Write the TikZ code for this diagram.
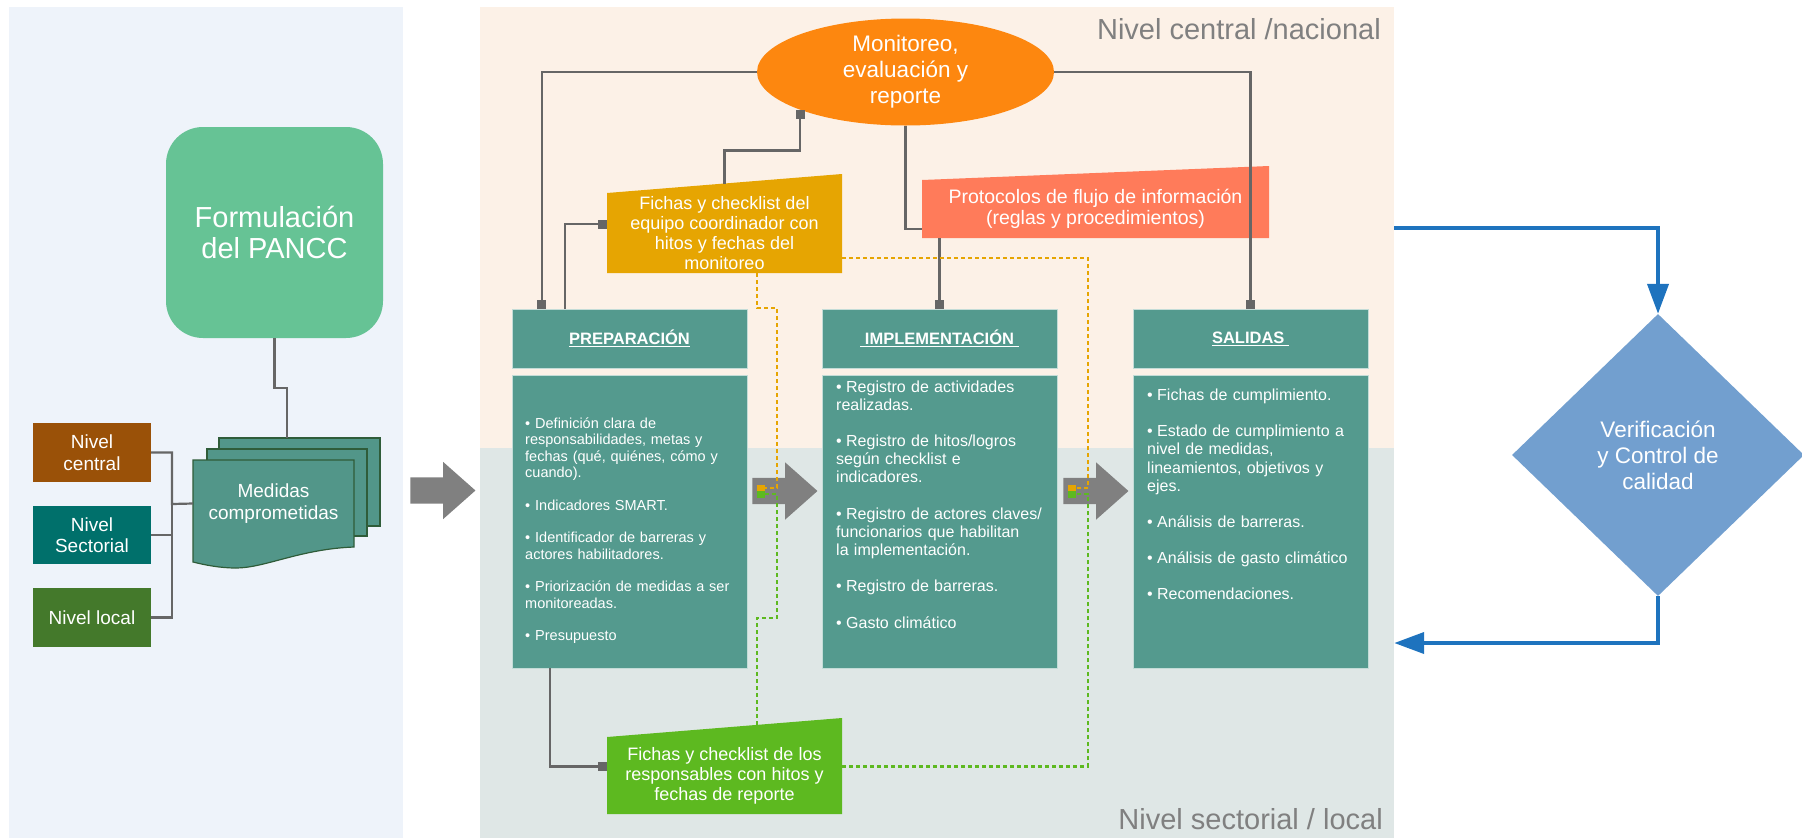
\documentclass[tikz,border=0pt]{standalone}
\usepackage{fontspec}
\setmainfont{Liberation Sans}
\usetikzlibrary{arrows.meta,shapes.geometric,shapes.arrows,calc}

\definecolor{panelleft}{HTML}{EEF3FA}
\definecolor{panelcentral}{HTML}{FCF1E7}
\definecolor{panelsector}{HTML}{DFE7E6}
\definecolor{formgreen}{HTML}{66C395}
\definecolor{medteal}{HTML}{529689}
\definecolor{medline}{HTML}{2F5C39}
\definecolor{nivcentral}{HTML}{9A5108}
\definecolor{nivsector}{HTML}{00706B}
\definecolor{nivlocal}{HTML}{44792B}
\definecolor{bigarrow}{HTML}{808080}
\definecolor{monorange}{HTML}{FD870F}
\definecolor{fichaorange}{HTML}{E6A502}
\definecolor{protored}{HTML}{FF7B5A}
\definecolor{fichagreen}{HTML}{5DB920}
\definecolor{stageteal}{HTML}{549A8E}
\definecolor{diamblue}{HTML}{729FCF}
\definecolor{flowblue}{HTML}{1E73BE}
\definecolor{linegray}{HTML}{666666}
\definecolor{labelgray}{HTML}{808080}

\newcommand{\fs}[2]{\fontsize{#1}{#2}\selectfont}
\newcommand{\bitem}[1]{\hangindent=10pt\hangafter=1\noindent\makebox[10pt][l]{\textbullet}#1\par}

\begin{document}
\begin{tikzpicture}[x=1pt, y=-1pt,
    box/.style={inner sep=0pt, text=white, align=center},
    panel/.style={inner sep=0pt, minimum width=914},
    stage/.style={box, fill=stageteal, draw=white!65!stageteal, line width=0.8pt, minimum width=235},
    list/.style={inner sep=0pt, text=white, align=left, anchor=base west, text width=222},
    conn/.style={draw=linegray, line width=2.2pt},
    sq/.style={-{Square[length=9pt,width=9pt]}},
    odash/.style={draw=fichaorange, line width=2.2pt, dash pattern=on 4pt off 3pt},
    gdash/.style={draw=fichagreen, line width=2.2pt, dash pattern=on 4pt off 3pt},
    dsq/.style={-{Square[length=8pt,width=7pt]}},
    bigarr/.style={single arrow, fill=bigarrow, inner xsep=0pt, inner ysep=13pt, text height=0pt, text depth=0pt, minimum width=57, minimum height=65, single arrow head extend=15.5, single arrow tip angle=83},
    flow/.style={draw=flowblue, line width=4pt, -{Triangle[length=30pt,width=21pt]}}]
    \useasboundingbox (0,0) rectangle (1802,839);

    \node[inner sep=0pt, fill=panelleft, minimum width=394, minimum height=831] (left) at (206,422.5) {};
    \node[panel, fill=panelcentral, minimum height=441] (central) at (937,227.5) {};
    \node[panel, fill=panelsector, minimum height=390] (sectoral) at (937,643) {};
    \node[inner sep=0pt, anchor=base east, text=labelgray, font=\fs{29}{31}] (lblcentral) at (1381,39) {Nivel central /nacional};
    \node[inner sep=0pt, anchor=base east, text=labelgray, font=\fs{29}{31}] (lblsector) at (1383,829) {Nivel sectorial / local};

    \node[box, fill=formgreen, rounded corners=37, minimum width=217, minimum height=211, font=\fs{29}{31}] (form) at (274.5,232.5) {Formulación\\del PANCC};
    \node[box, fill=nivcentral, minimum width=118, minimum height=59, font=\fs{19}{21.5}] (nc) at (92,452.5) {Nivel\\central};
    \node[box, fill=nivsector, minimum width=118, minimum height=58, font=\fs{19}{21.5}] (ns) at (92,535) {Nivel\\Sectorial};
    \node[box, fill=nivlocal, minimum width=118, minimum height=59, font=\fs{19}{21.5}] (nl) at (92,617.5) {Nivel local};

    \filldraw[fill=medteal, draw=medline, line width=1.2pt] (219,438) rectangle (380,526);
    \filldraw[fill=medteal, draw=medline, line width=1.2pt] (207,449) rectangle (367,536);
    \filldraw[fill=medteal, draw=medline, line width=1.2pt] (193,460) -- (354,460) -- (354,547)
        .. controls (300,549) and (265,568) .. (236,568) .. controls (220,568) and (205,565) .. (193,562) -- cycle;
    \node[box, minimum width=161, minimum height=87, font=\fs{19}{22}] (medidas) at (273.5,503.5) {Medidas\\comprometidas};
    \coordinate (medtop) at (287,438);
    \coordinate (bus) at (172,504);

    \node[bigarr] (arrA) at (435.5,490.5) {};
    \node[bigarr] (arrB) at (777.5,491) {};
    \node[bigarr] (arrC) at (1088.5,491) {};

    \node[box, ellipse, fill=monorange, minimum width=297, minimum height=107, font=\fs{22.5}{26}] (mon) at (905.5,72) {Monitoreo,\\evaluación y\\reporte};

    \fill[fichaorange] (607,273) -- (607,193) coordinate (fctl) -- (842,174) coordinate (fctr) -- (842,273) -- cycle;
    \node[box, minimum width=235, minimum height=80, font=\fs{18}{20}] (fcoord) at (724.5,233) {Fichas y checklist del\\equipo coordinador con\\hitos y fechas del\\monitoreo};
    \fill[protored] (922,238) -- (922,180) -- (1269,166) -- (1269,238) -- cycle;
    \node[box, minimum width=347, minimum height=58, font=\fs{19.5}{21.5}] (proto) at (1095.5,209) {Protocolos de flujo de información\\(reglas y procedimientos)};
    \fill[fichagreen] (607,814) -- (607,737) coordinate (grtl) -- (842,718) coordinate (grtr) -- (842,814) -- cycle;
    \node[box, minimum width=235, minimum height=77, font=\fs{18}{20}] (gresp) at (724.5,776) {Fichas y checklist de los\\responsables con hitos y\\fechas de reporte};

    \node[stage, minimum height=59, font=\bfseries\fs{16.5}{19}] (prephd) at (629.5,338.5) {\underline{PREPARACIÓN}};
    \node[stage, minimum height=59, font=\bfseries\fs{16.5}{19}] (implhd) at (939.5,338.5) {\underline{\ IMPLEMENTACIÓN\ }};
    \node[stage, minimum height=59, font=\bfseries\fs{16.5}{19}] (salhd) at (1250.5,338.5) {\underline{SALIDAS\ }};
    \node[stage, minimum height=293] (prepbd) at (629.5,521.5) {};
    \node[stage, minimum height=293] (implbd) at (939.5,521.5) {};
    \node[stage, minimum height=293] (salbd) at (1250.5,521.5) {};

    \node[list, font=\fs{14.5}{16.5}] (preplist) at (525,428) {\setlength{\parskip}{16pt}%
        \bitem{Definición clara de\\responsabilidades, metas y\\fechas (qué, quiénes, cómo y\\cuando).}
        \bitem{Indicadores SMART.}
        \bitem{Identificador de barreras y\\actores habilitadores.}
        \bitem{Priorización de medidas a ser\\monitoreadas.}
        \bitem{Presupuesto}};
    \node[list, font=\fs{16}{18}] (impllist) at (836,392) {\setlength{\parskip}{18.5pt}%
        \bitem{Registro de actividades\\realizadas.}
        \bitem{Registro de hitos/logros\\según checklist e\\indicadores.}
        \bitem{Registro de actores claves/\\funcionarios que habilitan\\la implementación.}
        \bitem{Registro de barreras.}
        \bitem{Gasto climático}};
    \node[list, font=\fs{16}{18.5}] (sallist) at (1147,400) {\setlength{\parskip}{17.5pt}%
        \bitem{Fichas de cumplimiento.}
        \bitem{Estado de cumplimiento a\\nivel de medidas,\\lineamientos, objetivos y\\ejes.}
        \bitem{Análisis de barreras.}
        \bitem{Análisis de gasto climático}
        \bitem{Recomendaciones.}};

    \node[box, diamond, fill=diamblue, minimum width=292, minimum height=282, font=\fs{22.5}{26}] (verif) at (1658,455) {Verificación\\y Control de\\calidad};

    \draw[conn] (form.south) -- ++(0,50) -| (medtop);
    \draw[conn] (nc.east) -| (bus) -- (medidas.west);
    \draw[conn] (nl.east) -| (bus);
    \draw[conn] (ns.east) -- (ns.east -| bus);

    \draw[conn, sq] (mon.west) -| ([xshift=30pt]prephd.north west);
    \draw[conn, sq] ([xshift=53pt]prephd.north west) |- ([yshift=9pt]fcoord.west);
    \draw[conn, sq] ($(fctl)!0.5!(fctr)$) -- ++(0,-33) -| (mon.south west);
    \draw[conn] (mon.south) |- ([yshift=-20pt]proto.west);
    \draw[conn, sq] (implhd.north |- proto.south) -- (implhd.north);
    \draw[conn, sq] (mon.east) -| (salhd.north);
    \draw[conn, sq] ([xshift=38pt]prepbd.south west) |- ([yshift=9.5pt]gresp.west);

    \coordinate (osq1) at (757,488);
    \coordinate (gsq1) at (757,494);
    \coordinate (osq2) at (1068,488);
    \coordinate (gsq2) at (1068,494);
    \draw[odash, dsq] ([xshift=32.5pt]fcoord.south) -- ++(0,35) -| ([xshift=20pt]osq1) -- (osq1);
    \draw[gdash, dsq] ($(grtl)!0.638!(grtr)$) -- ++(0,-107) -| ([xshift=20pt]gsq1) -- (gsq1);
    \draw[odash, dsq] ([yshift=-25pt]fcoord.east) -| ([xshift=20pt]osq2) -- (osq2);
    \draw[gdash, dsq] ([yshift=9.5pt]gresp.east) -| ([xshift=20pt]gsq2) -- (gsq2);

    \draw[flow] (central.east) -| (verif.north);
    \draw[flow] (verif.south) |- (sectoral.east);

\end{tikzpicture}
\end{document}
